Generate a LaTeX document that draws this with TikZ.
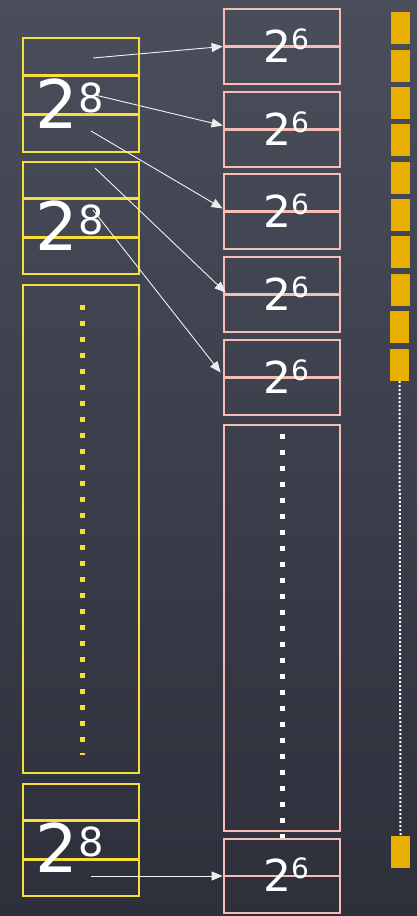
\documentclass[tikz,border=0pt]{standalone}
\usepackage{fontspec}
\setmainfont{DejaVu Sans}
\usetikzlibrary{arrows.meta,calc}
\definecolor{ylw}{HTML}{F6DE3C}
\definecolor{pnk}{HTML}{F5BDB4}
\definecolor{org}{HTML}{E8AF00}
\definecolor{bgtop}{HTML}{4A4E5B}
\definecolor{bgbot}{HTML}{2D303B}
\begin{document}
\begin{tikzpicture}[x=1pt,y=-1pt,
  ybox/.style={draw=ylw, line width=2.8pt, inner sep=0pt, minimum width=116pt},
  pbox/.style={draw=pnk, line width=2.8pt, inner sep=0pt, minimum width=116pt},
  ydiv/.style={draw=ylw, line width=2.8pt},
  pdiv/.style={draw=pnk, line width=2.8pt},
  obox/.style={fill=org, inner sep=0pt, minimum width=19pt, minimum height=32pt},
  ylabel/.style={text=white, inner sep=0pt, anchor=base, font=\fontsize{67}{67}\selectfont},
  plabel/.style={text=white, inner sep=0pt, anchor=base, font=\fontsize{44}{44}\selectfont},
  link/.style={draw=white!90!gray, line width=0.9pt, -{Triangle[length=11pt,width=9pt,fill=white!85!gray]}},
  bigdots/.style={line width=5pt, dash pattern=on 5pt off 11pt},
]
\useasboundingbox (0,0) rectangle (417,916);
\shade[top color=bgtop, bottom color=bgbot] (0,0) rectangle (417,916);

% yellow column
\node[ybox, minimum height=114pt] (y1) at (81,95) {};
\node[ybox, minimum height=112pt] (y2) at (81,218) {};
\node[ybox, minimum height=488pt] (y3) at (81,529) {};
\node[ybox, minimum height=112pt] (y4) at (81,840) {};
\foreach \b in {y1,y2,y4}{
  \draw[ydiv] ($(\b.north west)!1/3!(\b.south west)$) -- ($(\b.north east)!1/3!(\b.south east)$);
  \draw[ydiv] ($(\b.north west)!2/3!(\b.south west)$) -- ($(\b.north east)!2/3!(\b.south east)$);
}
\draw[ylw, bigdots] (82,305) -- (82,755);

% pink column
\node[pbox, minimum height=75pt] (p1) at (282,46.5) {};
\node[pbox, minimum height=75pt] (p2) at (282,129.5) {};
\node[pbox, minimum height=75pt] (p3) at (282,211.5) {};
\node[pbox, minimum height=75pt] (p4) at (282,294.5) {};
\node[pbox, minimum height=75pt] (p5) at (282,377.5) {};
\node[pbox, minimum height=406pt] (p6) at (282,628) {};
\node[pbox, minimum height=74pt] (p7) at (282,876) {};
\foreach \b in {p1,p2,p3,p4,p5,p7}{
  \draw[pdiv] (\b.west) -- (\b.east);
}
\draw[white, bigdots] (282,434) -- (282,838);

% labels
\node[ylabel] (t1) at (70,128) {2\raisebox{16pt}{\fontsize{40}{40}\selectfont 8}};
\node[ylabel] (t2) at (70,250) {2\raisebox{16pt}{\fontsize{40}{40}\selectfont 8}};
\node[ylabel] (t4) at (70,872) {2\raisebox{16pt}{\fontsize{40}{40}\selectfont 8}};
\foreach \b/\y in {p1/62,p2/145,p3/227,p4/310,p5/393,p7/891}{
  \node[plabel] (l\b) at (286,\y) {2\raisebox{13pt}{\fontsize{28}{28}\selectfont 6}};
}

% orange column
\foreach \i/\x/\y in {1/400.5/28,2/400.5/66,3/400.5/103,4/400.5/140,5/400.5/178,6/400.5/215,7/400.5/252,8/400.5/290,9/399.5/327,10/399.5/365,11/400.5/851.5}{
  \node[obox] (o\i) at (\x,\y) {};
}
\draw[white, line width=2pt, dash pattern=on 2pt off 2pt] (o10.south) -- (o11.north);

% arrows
\coordinate (s1) at (93,58);
\coordinate (s2) at (95,95);
\coordinate (s3) at (91,131);
\coordinate (s4) at (95,168);
\coordinate (s5) at (93,210);
\coordinate (s6) at (91,876);
\coordinate (e2) at ($(p2.west)+(0,-4)$);
\coordinate (e3) at ($(p3.west)+(0,-3)$);
\coordinate (e4) at ($(p4.west)+(3,-2)$);
\coordinate (e5) at ($(p5.west)+(-2,-5)$);
\draw[link] (s1) -- (p1.west);
\draw[link] (s2) -- (e2);
\draw[link] (s3) -- (e3);
\draw[link] (s4) -- (e4);
\draw[link] (s5) -- (e5);
\draw[link] (s6) -- (p7.west);
\end{tikzpicture}
\end{document}
